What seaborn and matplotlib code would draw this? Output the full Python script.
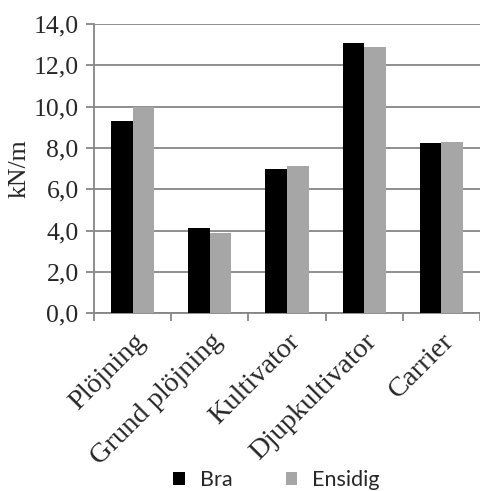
import matplotlib
matplotlib.use("Agg")
import matplotlib.pyplot as plt
import matplotlib.patches as mpatches
from matplotlib.ticker import FixedLocator
import seaborn as sns
import pandas as pd

# Draft force per implement
categories = ["Plöjning", "Grund plöjning", "Kultivator", "Djupkultivator", "Carrier"]
bra = [9.30, 4.12, 6.97, 13.09, 8.26]
ensidig = [10.00, 3.90, 7.14, 12.90, 8.29]
series = ["Bra", "Ensidig"]
colors = ["#000000", "#a6a6a6"]
yticks = [0, 2, 4, 6, 8, 10, 12, 14]
ytick_labels = ["0,0", "2,0", "4,0", "6,0", "8,0", "10,0", "12,0", "14,0"]
ylabel = "kN/m"

df = pd.DataFrame({
    "Redskap": categories * 2,
    "Serie": [series[0]] * len(categories) + [series[1]] * len(categories),
    "Kraft": bra + ensidig,
})

sns.set_theme(style="white")
plt.rcParams["font.family"] = ["Liberation Serif", "DejaVu Serif"]

fig = plt.figure(figsize=(4.81, 4.91), dpi=100)
ax = fig.add_axes([94 / 481, 1 - 313.3 / 491, (480 - 94) / 481, (313.3 - 24) / 491])

sns.barplot(data=df, x="Redskap", y="Kraft", hue="Serie", hue_order=series,
            palette=colors, width=0.56, gap=0, saturation=1, ax=ax,
            legend=False, linewidth=0, zorder=3)

grid_color = "#868686"
ax.set_ylim(0, 14)
ax.set_xlim(-0.5, len(categories) - 0.5)
ax.set_yticks(yticks)
ax.set_yticklabels(ytick_labels, fontsize=18.5)
ax.yaxis.grid(True, color=grid_color, linewidth=1.3, zorder=0)
ax.set_axisbelow(True)
ax.tick_params(axis="y", length=6, width=1.3, color=grid_color, pad=5, left=True)

# category separators below the axis
ax.xaxis.set_minor_locator(FixedLocator([i - 0.5 for i in range(len(categories) + 1)]))
ax.tick_params(axis="x", which="minor", length=6, width=1.3, color=grid_color, bottom=True)
ax.tick_params(axis="x", which="major", length=0, pad=11)
ax.set_xticks(range(len(categories)))
ax.set_xticklabels(categories, rotation=45, ha="right", rotation_mode="anchor", fontsize=20.5)

ax.set_xlabel("")
ax.set_ylabel(ylabel, fontsize=18.5, labelpad=2)

for side in ["top", "right"]:
    ax.spines[side].set_visible(False)
for side in ["left", "bottom"]:
    ax.spines[side].set_color(grid_color)
    ax.spines[side].set_linewidth(1.3)

handles = [mpatches.Patch(facecolor=c, edgecolor="none", label=s) for s, c in zip(series, colors)]
fig.legend(handles=handles, loc="center", bbox_to_anchor=(0.575, 0.022), ncol=2,
           frameon=False, prop={"family": ["Lato", "DejaVu Sans"], "size": 15.5},
           handlelength=0.55, handleheight=0.55, handletextpad=0.7, columnspacing=2.45,
           borderpad=0, borderaxespad=0)

fig.savefig("out.png", dpi=100)
